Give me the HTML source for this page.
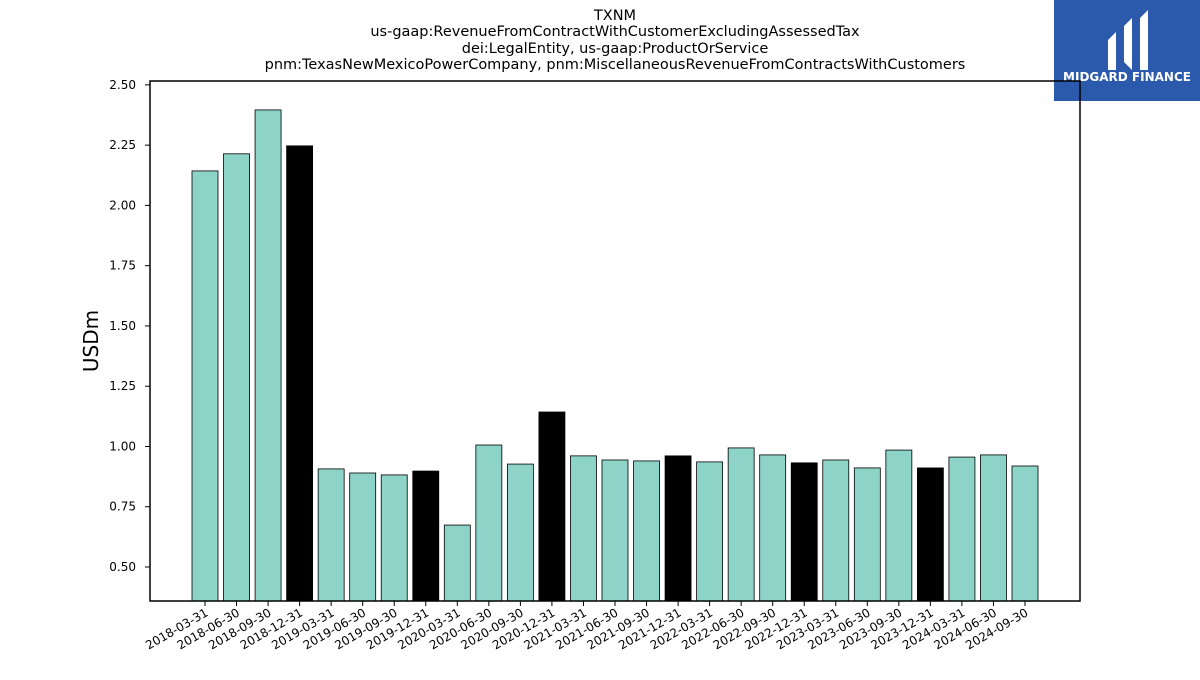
<!DOCTYPE html>
<html><head><meta charset="utf-8"><style>
body{margin:0;background:#fff;font-family:"Liberation Sans","DejaVu Sans",sans-serif}
</style></head><body>
<svg id="chart" width="1200" height="675" xmlns="http://www.w3.org/2000/svg" font-family="DejaVu Sans, Liberation Sans, sans-serif">
<g font-size="14.5" text-anchor="middle" fill="#000">
<text x="615" y="20">TXNM</text>
<text x="615" y="36">us-gaap:RevenueFromContractWithCustomerExcludingAssessedTax</text>
<text x="615" y="53">dei:LegalEntity, us-gaap:ProductOrService</text>
<text x="615" y="69">pnm:TexasNewMexicoPowerCompany, pnm:MiscellaneousRevenueFromContractsWithCustomers</text>
</g>
<g>
<rect x="1054" y="0" width="146" height="101" fill="#2b5aad"/>
<path d="M1108 40 L1116 32 L1116 70 L1108 70 Z M1124 26 L1132 18 L1132 70 L1124 62 Z M1140 18 L1148 10 L1148 70 L1140 70 Z" fill="#fff"/>
<text x="1127" y="81" font-size="12" font-weight="bold" fill="#fff" text-anchor="middle">MIDGARD FINANCE</text>
</g>
<text x="98" y="341" font-size="20" text-anchor="middle" transform="rotate(-90 98 341)">USDm</text>
<g id="bars"></g><g id="yaxis"></g><g id="xaxis"></g>
<rect x="150" y="81" width="930" height="520" fill="none" stroke="#000" stroke-width="1.5"/>
</svg>
<script>
const categories=["2018-03-31","2018-06-30","2018-09-30","2018-12-31","2019-03-31","2019-06-30","2019-09-30","2019-12-31","2020-03-31","2020-06-30","2020-09-30","2020-12-31","2021-03-31","2021-06-30","2021-09-30","2021-12-31","2022-03-31","2022-06-30","2022-09-30","2022-12-31","2023-03-31","2023-06-30","2023-09-30","2023-12-31","2024-03-31","2024-06-30","2024-09-30"];
const values=[2.143,2.214,2.396,2.247,0.907,0.890,0.882,0.898,0.674,1.006,0.927,1.143,0.961,0.944,0.940,0.961,0.936,0.994,0.965,0.932,0.944,0.911,0.985,0.911,0.956,0.965,0.919];
const yTicks=[0.5,0.75,1.0,1.25,1.5,1.75,2.0,2.25,2.5];
const NS="http://www.w3.org/2000/svg";
const yMin=0.359,yMax=2.516,plotTop=81,plotBot=601;
function y(v){return plotBot-(v-yMin)/(yMax-yMin)*(plotBot-plotTop);}
function x(i){return 205+i*(1025-205)/(categories.length-1);}
const bw=26;
const bars=document.getElementById('bars'),ya=document.getElementById('yaxis'),xa=document.getElementById('xaxis');
function mk(t,a){const e=document.createElementNS(NS,t);for(const k in a)e.setAttribute(k,a[k]);return e;}
values.forEach((v,i)=>{
 const q=categories[i].slice(5);
 const r=mk('rect',{x:x(i)-bw/2,y:y(v),width:bw,height:plotBot-y(v),fill:q==="12-31"?"#000":"#8dd3c7",stroke:"#000","stroke-width":0.8});
 
 
 bars.appendChild(r);
 const tk=mk('line',{x1:x(i),x2:x(i),y1:plotBot,y2:plotBot+5,stroke:"#000"});
 
 
 xa.appendChild(tk);
 const t=mk('text',{x:x(i)+4,y:plotBot+14,"font-size":12,"text-anchor":"end",transform:`rotate(-30 ${x(i)+4} ${plotBot+14})`});
 t.textContent=categories[i];
 
 
 xa.appendChild(t);
});
yTicks.forEach(v=>{
 const tk=mk('line',{x1:145,x2:150,y1:y(v),y2:y(v),stroke:"#000"});
 
 
 ya.appendChild(tk);
 const t=mk('text',{x:136,y:y(v)+4,"font-size":12,"text-anchor":"end"});
 t.textContent=v.toFixed(2);
 
 
 ya.appendChild(t);
});
</script>
</body></html>
